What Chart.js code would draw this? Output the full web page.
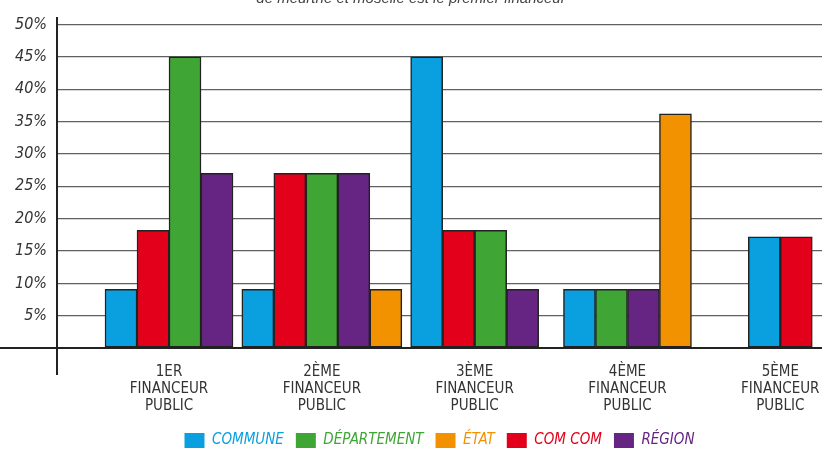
<!DOCTYPE html>
<html>
<head>
<meta charset="utf-8">
<script src="https://cdn.jsdelivr.net/npm/chart.js@4/dist/chart.umd.min.js"></script>
<style>
    html, body { margin: 0; padding: 0; background: #fff; }
    #wrap { width: 824px; height: 452px; }
</style>
</head>
<body>
<div id="wrap"><canvas id="chart"></canvas></div>
<script>
// Valeurs (en %)
const categories = [
    ['1ER', 'FINANCEUR', 'PUBLIC'],
    ['2ÈME', 'FINANCEUR', 'PUBLIC'],
    ['3ÈME', 'FINANCEUR', 'PUBLIC'],
    ['4ÈME', 'FINANCEUR', 'PUBLIC'],
    ['5ÈME', 'FINANCEUR', 'PUBLIC']
];
const commune = [9.1, 9.1, 45, 9.1, 17.2];
const comCom = [18.2, 27, 18.2, null, 17.2];
const departement = [45, 27, 18.2, 9.1, null];
const region = [27, 27, 9.1, 9.1, null];
const etat = [null, 9.1, null, 36.2, null];

const yTicks = [0, 5, 10, 15, 20, 25, 30, 35, 40, 45, 50];
const titleText = 'de meurthe et moselle est le premier financeur';

// ordre de la légende (différent de l'ordre des barres)
const legendOrder = ['COMMUNE', 'DÉPARTEMENT', 'ÉTAT', 'COM COM', 'RÉGION'];

const handFont = "'Liberation Sans Narrow', 'DejaVu Sans Condensed', sans-serif";

const toPoints = values => values.map((v, i) => ({ x: i, y: v }));

const series = [
    { label: 'COMMUNE', values: commune, color: '#0a9fdf' },
    { label: 'COM COM', values: comCom, color: '#e2001a' },
    { label: 'DÉPARTEMENT', values: departement, color: '#3fa535' },
    { label: 'RÉGION', values: region, color: '#662483' },
    { label: 'ÉTAT', values: etat, color: '#f39200' }
];

const ctx = document.getElementById('chart').getContext('2d');
new Chart(ctx, {
    type: 'bar',
    data: {
        datasets: series.map(s => ({
            label: s.label,
            data: toPoints(s.values),
            backgroundColor: s.color
        }))
    },
    options: {
        responsive: true,
        maintainAspectRatio: false,
        animation: false,
        layout: { padding: { top: 0, right: 2, bottom: -6, left: 0 } },
        datasets: {
            bar: {
                skipNull: true,
                barThickness: 32,
                borderWidth: 1.5,
                borderColor: '#222',
                borderSkipped: false
            }
        },
        scales: {
            x: {
                type: 'linear',
                offset: false,
                min: -0.733,
                max: 4.273,
                border: { display: false },
                grid: { display: false, drawTicks: false },
                afterBuildTicks: scale => {
                    scale.ticks = categories.map((c, i) => ({ value: i }));
                },
                ticks: {
                    autoSkip: false,
                    maxRotation: 0,
                    mirror: true,
                    padding: -6.5,
                    color: '#333',
                    font: { family: handFont, size: 15, lineHeight: 1.133 },
                    callback: v => categories[v] || ''
                },
                afterFit: scale => { scale.height = 47; }
            },
            y: {
                min: -4,
                max: 51,
                border: { display: true, color: '#222', width: 2 },
                grid: {
                    color: c => c.tick && c.tick.value === 0 ? '#222' : '#616161',
                    lineWidth: c => c.tick && c.tick.value === 0 ? 2 : 1.3,
                    tickColor: c => c.tick && c.tick.value === 0 ? '#222' : 'rgba(0,0,0,0)',
                    tickLength: 57
                },
                afterBuildTicks: scale => {
                    scale.ticks = yTicks.map(v => ({ value: v }));
                },
                ticks: {
                    padding: -47,
                    color: '#333',
                    font: { family: handFont, size: 16, style: 'italic' },
                    callback: v => v === 0 ? '' : v + '%'
                },
                afterFit: scale => { scale.width = 57; }
            }
        },
        plugins: {
            title: {
                display: true,
                text: titleText,
                color: '#444',
                font: { family: "'Liberation Sans', Arial, sans-serif", size: 15, style: 'italic', weight: 'normal' },
                padding: { top: -10.5, bottom: 10.6 }
            },
            legend: {
                position: 'bottom',
                fullSize: false,
                labels: {
                    boxWidth: 20,
                    boxHeight: 15,
                    padding: 12,
                    font: { family: handFont, size: 15, style: 'italic' },
                    sort: (a, b) => legendOrder.indexOf(a.text) - legendOrder.indexOf(b.text),
                    generateLabels: chart => {
                        const items = Chart.defaults.plugins.legend.labels.generateLabels(chart);
                        items.forEach(item => {
                            item.fontColor = item.fillStyle;
                            item.strokeStyle = item.fillStyle;
                            item.lineWidth = 0;
                        });
                        return items;
                    }
                }
            },
            tooltip: { enabled: false }
        }
    }
});
</script>
</body>
</html>
